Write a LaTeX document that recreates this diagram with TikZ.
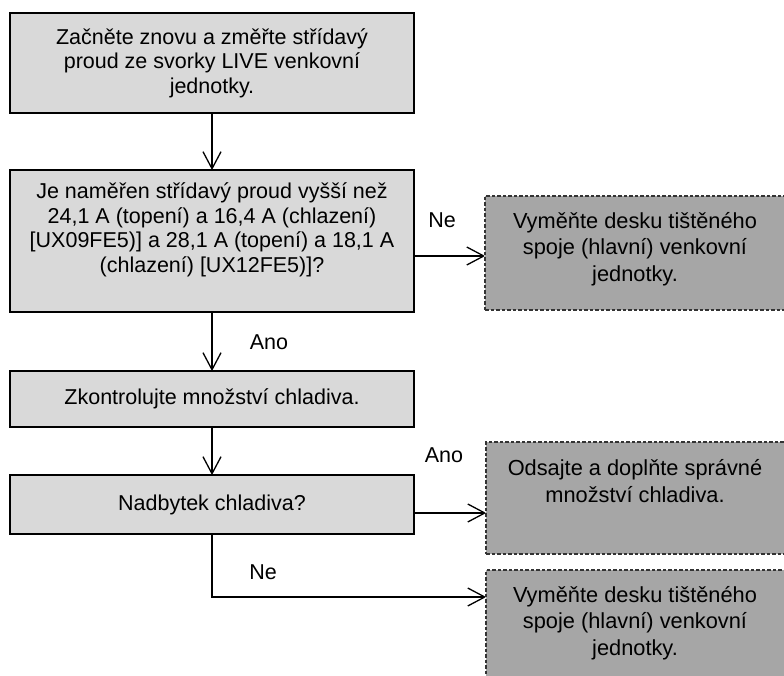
\documentclass[tikz,border=0pt]{standalone}
\usepackage{fontspec}
\setmainfont{Liberation Sans}
\usetikzlibrary{arrows.meta}
\definecolor{boxfill}{RGB}{217,217,217}
\definecolor{darkfill}{RGB}{166,166,166}
\begin{document}
\begin{tikzpicture}[x=1pt,y=1pt,
  box/.style={draw=black, fill=boxfill, line width=1.3pt, minimum width=404pt, inner sep=0pt,
              font=\fontsize{21.5}{24.5}\selectfont, align=center},
  dbox/.style={draw=black!80, fill=darkfill, line width=1.2pt, dash pattern=on 3.5pt off 2pt, inner sep=0pt},
  txt/.style={font=\fontsize{21.5}{24.5}\selectfont, align=center, inner sep=0pt},
  dtxt/.style={font=\fontsize{21.8}{26.5}\selectfont, align=center, inner sep=0pt},
  lbl/.style={font=\fontsize{21.5}{24.5}\selectfont, inner sep=0pt, anchor=base},
  arr/.style={line width=1.3pt, -{Straight Barb[length=17pt,width=18pt,line join=round]}}
]
\useasboundingbox (0,0) rectangle (784,-676);
\clip (0,0) rectangle (784,-676);

% left column boxes
\node[box, minimum height=100pt] (b1) at (212,-63)
  {Začněte znovu a změřte střídavý\\proud ze svorky LIVE venkovní\\jednotky.};
\node[box, minimum height=142pt] (b2) at (212,-241) {};
\node[txt] (t2) at (212,-230)
  {Je naměřen střídavý proud vyšší než\\24,1 A (topení) a 16,4 A (chlazení)\\{[}UX09FE5)] a 28,1 A (topení) a 18,1 A\\(chlazení) [UX12FE5)]?};
\node[box, minimum height=56pt] (b3) at (212,-399) {Zkontrolujte množství chladiva.};
\node[box, minimum height=59pt] (b4) at (212,-504.5) {Nadbytek chladiva?};

% right column dashed boxes
\node[dbox, minimum width=300pt, minimum height=114pt] (d1) at (635,-253) {};
\node[dtxt] (dt1) at (635,-249)
  {Vyměňte desku tištěného\\spoje (hlavní) venkovní\\jednotky.};
\node[dbox, minimum width=299pt, minimum height=112pt] (d2) at (635.5,-498) {};
\node[dtxt] (dt2) at (635,-481)
  {Odsajte a doplňte správné\\množství chladiva.};
\node[dbox, minimum width=299pt, minimum height=110pt] (d3) at (635.5,-625) {};
\node[dtxt] (dt3) at (635,-623)
  {Vyměňte desku tištěného\\spoje (hlavní) venkovní\\jednotky.};

% helper coordinates for horizontal connectors
\coordinate (y1) at (0,-256);
\coordinate (y2) at (0,-513);
\coordinate (y3) at (0,-597);

% connectors
\draw[arr] (b1.south) -- (b2.north);
\draw[arr] (b2.east |- y1) -- (d1.west |- y1);
\draw[arr] (b2.south) -- (b3.north);
\draw[arr] (b3.south) -- (b4.north);
\draw[arr] (b4.east |- y2) -- (d2.west |- y2);
\draw[arr] (b4.south) |- (d3.west |- y3);

% labels
\node[lbl] (l1) at (442,-228) {Ne};
\node[lbl] (l2) at (269,-349) {Ano};
\node[lbl] (l3) at (444,-462) {Ano};
\node[lbl] (l4) at (263,-579) {Ne};
\end{tikzpicture}
\end{document}
